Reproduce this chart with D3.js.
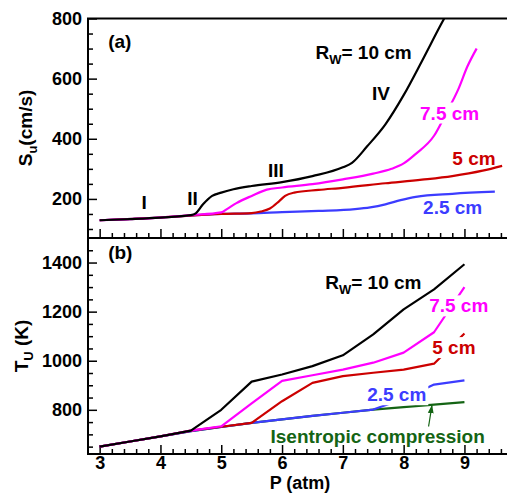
<!DOCTYPE html>
<html>
<head>
<meta charset="utf-8">
<script src="https://cdn.jsdelivr.net/npm/d3@7"></script>
<style>
	body { margin: 0; background: #fff; }
	text { font-family: "Liberation Sans", Arial, sans-serif; font-weight: bold; }
</style>
</head>
<body>
<svg id="chart" width="507" height="493"></svg>
<script>
// x axis (pressure, atm)
var pTicks = [3, 4, 5, 6, 7, 8, 9];
var suTicks = [200, 400, 600, 800];
var tuTicks = [800, 1000, 1200, 1400];

// (a) burning velocity S_u (cm/s)
var pA10 = [3, 3.5, 4, 4.5, 4.58, 4.7, 4.85, 5.0, 5.2, 5.5, 6.0, 6.5, 7.0, 7.15, 7.4, 7.7, 8.0, 8.3, 8.6, 8.8];
var suA10 = [129, 133, 138, 146, 152, 182, 210, 221, 232, 243, 256, 276, 305, 320, 375, 448, 545, 658, 775, 850];
var pA75 = [3, 4, 4.5, 5.0, 5.1, 5.25, 5.5, 5.75, 6.0, 6.5, 7.0, 7.5, 7.8, 8.0, 8.2, 8.5, 8.7, 8.9, 9.05, 9.2];
var suA75 = [129, 138, 146, 155, 167, 186, 210, 231, 238, 249, 265, 284, 300, 318, 350, 410, 485, 565, 641, 700];
var pA5 = [3, 4, 5, 5.5, 5.65, 5.8, 5.95, 6.05, 6.2, 6.6, 7.0, 7.7, 8.3, 8.8, 9.3, 9.62];
var suA5 = [129, 138, 150, 153, 158, 168, 192, 210, 221, 230, 237, 252, 264, 276, 294, 310];
var pA25 = [3, 4, 5, 5.5, 6, 6.6, 7.2, 7.45, 7.7, 7.95, 8.2, 8.8, 9.5];
var suA25 = [129, 138, 150, 152, 156, 160, 166, 172, 182, 196, 207, 217, 224];

// (b) unburned gas temperature T_u (K)
var pB = [3, 3.5, 4, 4.5, 5, 5.5, 6, 6.5, 7, 7.5, 8, 8.5, 9];
var tuB10 = [650, 671, 692, 715, 800, 915, 944, 978, 1022, 1107, 1209, 1291, 1393];
var tuB75 = [650, 671, 692, 715, 733, 826, 918, 941, 964, 992, 1033, 1116, 1300];
var tuB5 = [650, 671, 692, 715, 731, 747, 835, 910, 937, 951, 964, 988, 1111];
var tuB25 = [650, 671, 692, 713, 730, 747, 761, 775, 788, 801, 845, 903, 920];
var tuBisen = [650, 671, 692, 713, 730, 747, 761, 775, 788, 801, 811, 821, 831];

var svg = d3.select('#chart');

var x = d3.scaleLinear().domain([2.8, 9.7]).range([87.5, 507]);
var yA = d3.scaleLinear().domain([70, 800]).range([238, 18.5]);
var yB = d3.scaleLinear().domain([620, 1500]).range([454, 238]);

var minorOf = function(lo, hi, step, majors) {
	return d3.range(lo, hi + step / 2, step).filter(function(v) {
		return !majors.some(function(m) { return Math.abs(m - v) < 1e-6; });
	});
};

// clip areas
var defs = svg.append('defs');
defs.append('clipPath').attr('id', 'clipA').append('rect')
	.attr('x', 88).attr('y', yA(800)).attr('width', 507 - 88).attr('height', yA(70) - yA(800));
defs.append('clipPath').attr('id', 'clipB').append('rect')
	.attr('x', 88).attr('y', yB(1500)).attr('width', 507 - 88).attr('height', yB(620) - yB(1500));
defs.append('marker')
	.attr('id', 'arrow')
	.attr('viewBox', '0 0 10 10')
	.attr('refX', 9).attr('refY', 5)
	.attr('markerWidth', 7).attr('markerHeight', 7)
	.attr('orient', 'auto')
	.append('path')
		.attr('d', 'M0,1.5L10,5L0,8.5Z')
		.style('fill', '#146414');

var axisStyle = function(g, fontSize) {
	g.select('.domain').remove();
	g.selectAll('line').style('stroke', '#000').style('stroke-width', 1.5);
	g.selectAll('text')
		.style('font-size', fontSize + 'px')
		.style('fill', '#000');
};

// y axes
svg.append('g').attr('transform', 'translate(88,0)')
	.call(d3.axisLeft(yA).tickValues(minorOf(100, 750, 50, suTicks)).tickSize(-5).tickFormat(''))
	.call(axisStyle, 18);
svg.append('g').attr('transform', 'translate(88,0)')
	.call(d3.axisLeft(yA).tickValues(suTicks).tickSize(-9).tickPadding(6).tickFormat(d3.format('d')))
	.call(axisStyle, 18);
svg.append('g').attr('transform', 'translate(88,0)')
	.call(d3.axisLeft(yB).tickValues(minorOf(650, 1450, 50, tuTicks)).tickSize(-5).tickFormat(''))
	.call(axisStyle, 18);
svg.append('g').attr('transform', 'translate(88,0)')
	.call(d3.axisLeft(yB).tickValues(tuTicks).tickSize(-9).tickPadding(6).tickFormat(d3.format('d')))
	.call(axisStyle, 18);

// x axes (top panel: ticks only)
var pMinor = minorOf(3.2, 9.6, 0.2, pTicks);
[238, 454].forEach(function(y0) {
	svg.append('g').attr('transform', 'translate(0,' + y0 + ')')
		.call(d3.axisBottom(x).tickValues(pMinor).tickSize(-5).tickFormat(''))
		.call(axisStyle, 18);
	svg.append('g').attr('transform', 'translate(0,' + y0 + ')')
		.call(d3.axisBottom(x).tickValues(pTicks).tickSize(-9).tickPadding(2)
			.tickFormat(y0 == 454 ? d3.format('d') : ''))
		.call(axisStyle, 18);
});

// frame
var frame = svg.append('g').style('stroke', '#000').style('stroke-width', 2);
frame.append('line').attr('x1', 88).attr('x2', 88).attr('y1', yA(800)).attr('y2', 454.5);
frame.append('line').attr('x1', 87).attr('x2', 507).attr('y1', yA(800)).attr('y2', yA(800));
frame.append('line').attr('x1', 87).attr('x2', 507).attr('y1', 238).attr('y2', 238);
frame.append('line').attr('x1', 87).attr('x2', 507).attr('y1', 454).attr('y2', 454);

// curves
var drawCurve = function(g, y, ps, vals, color, curve) {
	var line = d3.line()
		.x(function(d) { return x(d[0]); })
		.y(function(d) { return y(d[1]); })
		.curve(curve);
	g.append('path')
		.datum(d3.zip(ps, vals))
		.attr('d', line)
		.style('fill', 'none')
		.style('stroke', color)
		.style('stroke-width', 2.2)
		.style('stroke-linejoin', 'round');
};

var gA = svg.append('g').attr('clip-path', 'url(#clipA)');
drawCurve(gA, yA, pA25, suA25, '#3c3cff', d3.curveMonotoneX);
drawCurve(gA, yA, pA5, suA5, '#cc0000', d3.curveMonotoneX);
drawCurve(gA, yA, pA75, suA75, '#ff00ff', d3.curveMonotoneX);
drawCurve(gA, yA, pA10, suA10, '#000000', d3.curveMonotoneX);

var gB = svg.append('g').attr('clip-path', 'url(#clipB)');
drawCurve(gB, yB, pB, tuBisen, '#146414', d3.curveLinear);
drawCurve(gB, yB, pB, tuB25, '#3c3cff', d3.curveLinear);
drawCurve(gB, yB, pB, tuB5, '#cc0000', d3.curveLinear);
drawCurve(gB, yB, pB, tuB75, '#ff00ff', d3.curveLinear);
drawCurve(gB, yB, pB, tuB10, '#000000', d3.curveLinear);

// labels
var addLabel = function(px, py, txt, color, knock) {
	var g = svg.append('g');
	var t = g.append('text')
		.attr('x', px)
		.attr('y', py)
		.style('font-size', '19px')
		.style('fill', color)
		.text(txt);
	if (knock) {
		var b = t.node().getBBox();
		g.insert('rect', 'text')
			.attr('x', b.x - 2).attr('y', b.y)
			.attr('width', b.width + 4).attr('height', b.height)
			.style('fill', '#fff');
	}
	return t;
};

var addRw = function(px, py) {
	var t = svg.append('text')
		.attr('x', px).attr('y', py)
		.style('font-size', '19px')
		.style('fill', '#000');
	t.append('tspan').text('R');
	t.append('tspan').attr('dy', 5).style('font-size', '13px').text('W');
	t.append('tspan').attr('dy', -5).text('= 10 cm');
};

addLabel(x(3.14), yA(701), '(a)', '#000');
addLabel(x(3.69), yA(165), 'I', '#000');
addLabel(x(4.44), yA(181), 'II', '#000');
addLabel(x(5.77), yA(273), 'III', '#000');
addLabel(x(7.48), yA(529), 'IV', '#000');
addRw(x(6.55), yA(665));
addLabel(x(8.27), yA(464), '7.5 cm', '#ff00ff', true);
addLabel(x(8.80), yA(314), '5 cm', '#cc0000');
addLabel(x(8.32), yA(151), '2.5 cm', '#3c3cff');

addLabel(x(3.14), yB(1416), '(b)', '#000');
addRw(x(6.71), yB(1293));
addLabel(x(8.42), yB(1197), '7.5 cm', '#ff00ff', true);
addLabel(x(8.47), yB(1027), '5 cm', '#cc0000', true);
addLabel(x(7.40), yB(835), '2.5 cm', '#3c3cff', true);
addLabel(x(5.81), yB(665), 'Isentropic compression', '#146414');

svg.append('line')
	.attr('x1', x(8.41)).attr('y1', yB(732))
	.attr('x2', x(8.465)).attr('y2', yB(817))
	.style('stroke', '#146414')
	.style('stroke-width', 1.2)
	.attr('marker-end', 'url(#arrow)');

// axis titles
var ta = svg.append('text')
	.attr('transform', 'translate(32,128) rotate(-90)')
	.attr('text-anchor', 'middle')
	.style('font-size', '19px');
ta.append('tspan').text('S');
ta.append('tspan').attr('dy', 5).style('font-size', '13px').text('u');
ta.append('tspan').attr('dy', -5).text('(cm/s)');

var tb = svg.append('text')
	.attr('transform', 'translate(28,346) rotate(-90)')
	.attr('text-anchor', 'middle')
	.style('font-size', '19px');
tb.append('tspan').text('T');
tb.append('tspan').attr('dy', 5).style('font-size', '13px').text('U');
tb.append('tspan').attr('dy', -5).text(' (K)');

svg.append('text')
	.attr('x', 300).attr('y', 489)
	.attr('text-anchor', 'middle')
	.style('font-size', '18px')
	.text('P (atm)');
</script>
</body>
</html>
